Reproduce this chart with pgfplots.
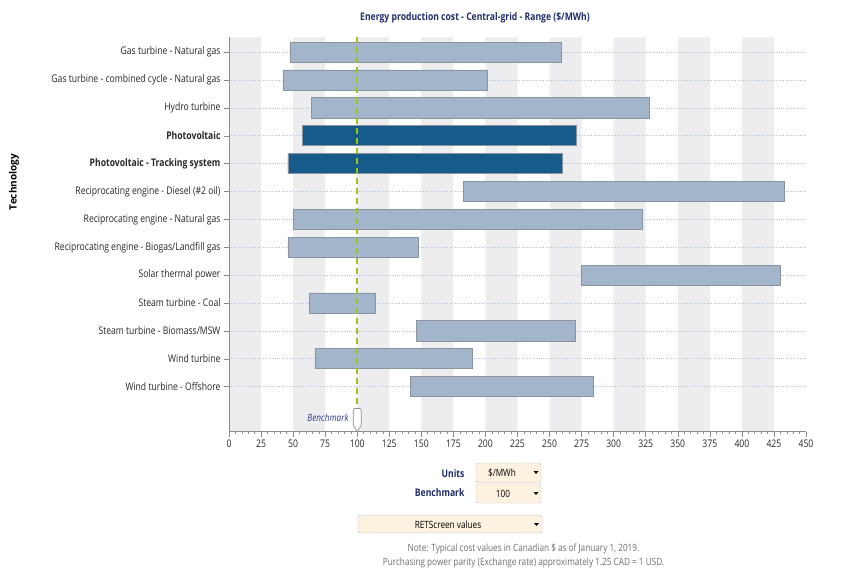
\documentclass[border=0pt]{standalone}
\usepackage{fontspec}
\setmainfont{Open Sans}[FakeStretch=0.82]
\newfontfamily\techfont{Open Sans}
\usepackage{pgfplots}
\usepackage{pgfplotstable}
\pgfplotsset{compat=1.18}

\definecolor{bandgray}{HTML}{EDEDEF}
\definecolor{barlight}{HTML}{A2B5CB}
\definecolor{barborder}{HTML}{8A949F}
\definecolor{bardark}{HTML}{175B8B}
\definecolor{gridblue}{HTML}{B4C2E0}
\definecolor{benchgreen}{HTML}{9CC41E}
\definecolor{navy}{HTML}{1F2C6B}
\definecolor{benchblue}{HTML}{2F3B8F}
\definecolor{notegray}{HTML}{6D6D6D}
\definecolor{boxfill}{HTML}{FDF1DF}
\definecolor{boxborder}{HTML}{BFBFBF}
\definecolor{axisgray}{HTML}{8C8C8C}
\definecolor{labelcol}{HTML}{262626}

\pgfdeclareplotmark{bench}{%
  \pgfpathmoveto{\pgfpoint{0pt}{0pt}}%
  \pgfpathlineto{\pgfpoint{4pt}{6pt}}%
  \pgfpathlineto{\pgfpoint{4pt}{21pt}}%
  \pgfpathlineto{\pgfpoint{3pt}{23pt}}%
  \pgfpathlineto{\pgfpoint{-3pt}{23pt}}%
  \pgfpathlineto{\pgfpoint{-4pt}{21pt}}%
  \pgfpathlineto{\pgfpoint{-4pt}{6pt}}%
  \pgfpathclose
  \pgfusepathqfillstroke}

% pos: row position (top row = 13.61, bottom row = 1.61); ymin = 0
\pgfplotstableread{
pos start end hl
13.61 47.5 259 0
12.61 42 201.5 0
11.61 64 328 0
10.61 57 271 1
9.61 46 260 1
8.61 183 433 0
7.61 50 322.5 0
6.61 46 148 0
5.61 275 430 0
4.61 62.5 114 0
3.61 146 270.5 0
2.61 67 190 0
1.61 141.5 284.5 0
}\costdata

\begin{document}
\begin{tikzpicture}
\begin{axis}[
  at={(229pt,-431.5pt)}, anchor=south west,
  scale only axis, width=577pt, height=394pt,
  xmin=0, xmax=450, ymin=0, ymax=14.135,
  set layers, reverse stacked plots=false,
  axis x line*=bottom, axis y line*=left,
  axis line style={-, draw=axisgray, line width=0.6pt},
  xtick={0,25,...,450}, minor x tick num=4,
  ytick={1.61,2.61,3.61,4.61,5.61,6.61,7.61,8.61,9.61,10.61,11.61,12.61,13.61},
  yticklabels={Wind turbine - Offshore, Wind turbine, Steam turbine - Biomass/MSW, Steam turbine - Coal, Solar thermal power, Reciprocating engine - Biogas/Landfill gas, Reciprocating engine - Natural gas, Reciprocating engine - Diesel (\#2 oil), \textbf{Photovoltaic - Tracking system}, \textbf{Photovoltaic}, Hydro turbine, Gas turbine - combined cycle - Natural gas, Gas turbine - Natural gas},
  tick align=outside,
  major tick length=5pt, minor tick length=2.5pt,
  tick style={axisgray, line width=0.5pt},
  ymajorgrids, major grid style={gridblue, dotted, line width=0.7pt},
  tick label style={font=\fontsize{10.5}{12}\selectfont, text=labelcol},
  /pgf/number format/assume math mode=true,
]
\addplot[ybar interval, fill=bandgray, draw=none, on layer=axis background]
  coordinates {(0,14.135)(25,0)(50,14.135)(75,0)(100,14.135)(125,0)(150,14.135)(175,0)(200,14.135)(225,0)(250,14.135)(275,0)(300,14.135)(325,0)(350,14.135)(375,0)(400,14.135)(425,0)(450,0)};
\addplot[xbar stacked, bar width=0.72, draw=none, fill=none]
  table[x=start, y=pos] {\costdata};
\addplot[xbar stacked, bar width=0.72, fill=barlight, draw=barborder, line width=0.7pt]
  table[x expr={(1-\thisrow{hl})*(\thisrow{end}-\thisrow{start})}, y=pos] {\costdata};
\addplot[xbar stacked, bar width=0.72, fill=bardark, draw=barborder, line width=0.7pt]
  table[x expr={\thisrow{hl}*(\thisrow{end}-\thisrow{start})}, y=pos] {\costdata};
\addplot[on layer=axis foreground, color=benchgreen, line width=1.5pt, dash pattern=on 6pt off 4pt, mark=none]
  coordinates {(100,14.135)(100,0.95)};
\addplot[on layer=axis foreground, only marks, mark=bench, mark options={fill=white, draw=axisgray, line width=0.6pt, solid},
  nodes near coords={Benchmark},
  every node near coord/.append style={anchor=east, xshift=-5pt, yshift=14pt, font=\itshape\fontsize{10}{12}\selectfont, text=benchblue}]
  coordinates {(100,0)};
\end{axis}

\node[font=\bfseries\fontsize{10.5}{12}\selectfont, text=navy] at (475pt,-18pt) {Energy production cost - Central-grid - Range (\$/MWh)};
\node[rotate=90, font=\techfont\bfseries\fontsize{10}{12}\selectfont, text=black] at (14pt,-182pt) {Technology};

\node[anchor=east, font=\bfseries\fontsize{10.5}{12}\selectfont, text=navy] at (468pt,-474pt) {Units};
\draw[boxborder, fill=boxfill, rounded corners=2pt] (476pt,-463pt) rectangle (541pt,-482.5pt);
\node[font=\fontsize{10}{12}\selectfont] at (502pt,-472.5pt) {\$/MWh};
\fill (533.5pt,-471pt) -- (538.5pt,-471pt) -- (536pt,-474pt) -- cycle;

\node[anchor=east, font=\bfseries\fontsize{10.5}{12}\selectfont, text=navy] at (468pt,-493pt) {Benchmark};
\draw[boxborder, fill=boxfill, rounded corners=2pt] (476pt,-484pt) rectangle (541pt,-503pt);
\node[font=\fontsize{10}{12}\selectfont] at (503pt,-493.5pt) {100};
\fill (533.5pt,-492pt) -- (538.5pt,-492pt) -- (536pt,-495pt) -- cycle;

\draw[boxborder, fill=boxfill, rounded corners=2pt] (358pt,-515.5pt) rectangle (542pt,-533pt);
\node[font=\fontsize{10}{12}\selectfont] at (448pt,-524.5pt) {RETScreen values};
\fill (534pt,-523pt) -- (539pt,-523pt) -- (536.5pt,-526pt) -- cycle;

\node[text=notegray, font=\fontsize{10}{12}\selectfont] at (523.5pt,-549pt) {Note: Typical cost values in Canadian \$ as of January 1, 2019.};
\node[text=notegray, font=\fontsize{10}{12}\selectfont] at (523.5pt,-563pt) {Purchasing power parity (Exchange rate) approximately 1.25 CAD = 1 USD.};
\path (0pt,0pt) rectangle (860pt,-575pt);
\end{tikzpicture}
\end{document}
